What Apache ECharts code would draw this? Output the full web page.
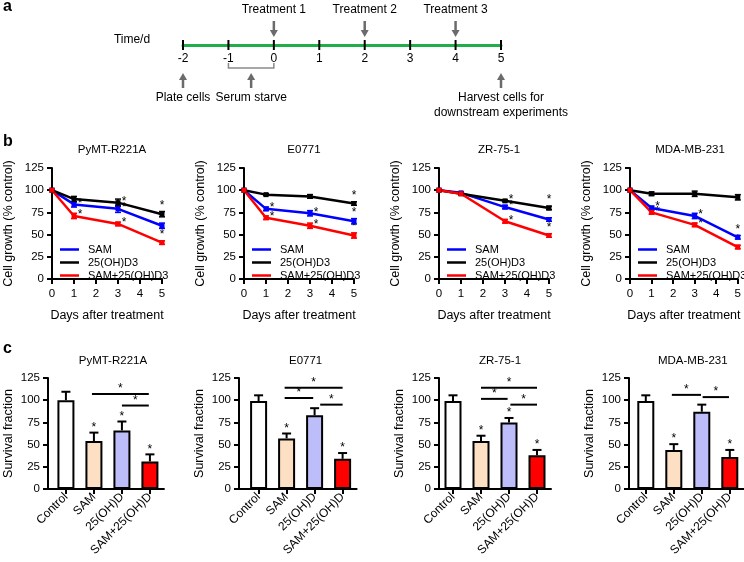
<!DOCTYPE html>
<html lang="en">
<head>
<meta charset="UTF-8">
<title>SAM and 25(OH)D</title>
<style>
  html, body { margin: 0; background: #fff; }
  #chart { width: 744px; height: 562px; }
</style>
</head>
<body>
<div id="chart"></div>
<script src="https://cdn.jsdelivr.net/npm/echarts@6/dist/echarts.min.js"></script>
<script>
// ---- panel a: timeline (days) ----
var timeTicks = [-2, -1, 0, 1, 2, 3, 4, 5];
var treatDays = [0, 2, 4];
var treatLabels = ['Treatment 1', 'Treatment 2', 'Treatment 3'];
var eventDays = [-2, -0.5, 5];
var eventLabels = ['Plate cells', 'Serum starve', 'Harvest cells for\ndownstream experiments'];
var starveRange = [-1, 0];

// ---- panel b: cell growth (% control), one row per cell line ----
var cellLines = ['PyMT-R221A', 'E0771', 'ZR-75-1', 'MDA-MB-231'];
var days = [0, 1, 3, 5];
var treatNames = ['SAM', '25(OH)D3', 'SAM+25(OH)D3'];
var growthSAM   = [[100, 84, 79, 60], [100, 79, 74, 65], [100, 97, 81, 67], [100, 80, 71, 47]];
var growthD3    = [[100, 90, 86, 73], [100, 95, 93, 85], [100, 96, 88, 80], [100, 96, 96, 92]];
var growthCombo = [[100, 71, 62, 41], [100, 69, 60, 49], [100, 96, 65, 49], [100, 75, 61, 36]];
var errSAM   = [[0, 3, 4, 3], [0, 2, 3, 3], [0, 1, 2, 2], [0, 2, 3, 2]];
var errD3    = [[0, 3, 4, 3], [0, 1, 2, 2], [0, 1, 1, 2], [0, 2, 3, 3]];
var errCombo = [[0, 3, 2, 2], [0, 2, 3, 3], [0, 1, 2, 2], [0, 2, 2, 2]];
// 1 = significance star next to the point
var starSAM   = [[0, 1, 1, 1], [0, 1, 1, 1], [0, 0, 1, 1], [0, 1, 1, 1]];
var starD3    = [[0, 0, 1, 1], [0, 0, 0, 1], [0, 0, 1, 1], [0, 0, 0, 0]];
var starCombo = [[0, 1, 1, 1], [0, 1, 1, 1], [0, 0, 1, 1], [0, 1, 1, 1]];

// ---- panel c: survival fraction ----
var groups = ['Control', 'SAM', '25(OH)D', 'SAM+25(OH)D'];
var survival    = [[100, 54, 66, 31], [99, 57, 83, 34], [99, 54, 75, 38], [99, 44, 87, 36]];
var survivalErr = [[9.5, 9.5, 10, 8], [6.5, 5.5, 8, 6.5], [6.5, 6, 5, 6], [6.5, 6.5, 8, 8]];
var survivalStar = [[0, 1, 1, 1], [0, 1, 0, 1], [0, 1, 1, 1], [0, 1, 0, 1]];
// [from group, to group, height]
var sigBars = [
    [[0.93, 2.96, 107], [2, 2.96, 94]],
    [[0.93, 3, 114], [0.93, 1.95, 102.5], [2.2, 3, 95]],
    [[1, 3, 114], [1, 1.95, 101.5], [2.05, 3, 95]],
    [[0.93, 1.97, 106], [2.03, 2.97, 103.5]]
];

var font = 'Liberation Sans';
var lineColors = ['#0000ff', '#000000', '#ff0000'];
var barColors = ['#ffffff', '#fde0c4', '#bdbdfa', '#ff0000'];
var arrowColor = '#6b6b6b';

var myChart = echarts.init(document.getElementById('chart'));

function seg(x1, y1, x2, y2, color, w) {
    return {type: 'line', shape: {x1: x1, y1: y1, x2: x2, y2: y2}, style: {stroke: color, lineWidth: w}};
}
function starText(x, y) {
    return {type: 'text', x: x, y: y, style: {text: '*', fill: '#000', font: '12px ' + font, align: 'center', verticalAlign: 'middle'}};
}
function arrow(x, yTail, yTip) {
    var dir = yTip > yTail ? 1 : -1;
    var shaftEnd = yTip - dir * 7;
    return [
        seg(x, yTail, x, shaftEnd, arrowColor, 2.5),
        {type: 'polygon', shape: {points: [[x - 4, shaftEnd], [x + 4, shaftEnd], [x, yTip]]}, style: {fill: arrowColor}}
    ];
}

var axisLine = {lineStyle: {color: '#000', width: 2}};
var axisTick = {length: 5, lineStyle: {color: '#000', width: 2}};
var tickLabel = {color: '#000', fontSize: 11.5, fontFamily: font};
var nameStyle = {color: '#000', fontSize: 12.5, fontFamily: font};

var grids = [], xAxes = [], yAxes = [], series = [], titles = [], legends = [];

// panel a
grids.push({left: 183, top: 0, width: 318, height: 45});
xAxes.push({gridIndex: 0, type: 'value', min: -2, max: 5, interval: 1,
    axisLine: {lineStyle: {color: '#1fae4a', width: 3}}, axisTick: {show: false}, splitLine: {show: false},
    axisLabel: {color: '#000', fontSize: 12, fontFamily: font, margin: 8}});
yAxes.push({gridIndex: 0, type: 'value', min: 0, max: 1, show: false});
series.push({type: 'custom', xAxisIndex: 0, yAxisIndex: 0, silent: true,
    data: timeTicks.map(function (d) { return [d, 0]; }),
    renderItem: function (params, api) {
        var p = api.coord([api.value(0), 0]);
        return seg(p[0], p[1] - 5, p[0], p[1] + 5, '#000', 2);
    }});
series.push({type: 'custom', xAxisIndex: 0, yAxisIndex: 0, silent: true,
    data: treatDays.map(function (d, i) { return [d, 0, i]; }),
    renderItem: function (params, api) {
        var p = api.coord([api.value(0), 0]);
        var kids = arrow(p[0], p[1] - 24, p[1] - 8);
        kids.push({type: 'text', x: p[0], y: p[1] - 35, style: {text: treatLabels[api.value(2)], fill: '#000',
            font: '12px ' + font, align: 'center', verticalAlign: 'middle'}});
        return {type: 'group', children: kids};
    }});
series.push({type: 'custom', xAxisIndex: 0, yAxisIndex: 0, silent: true,
    data: eventDays.map(function (d, i) { return [d, 0, i]; }),
    renderItem: function (params, api) {
        var p = api.coord([api.value(0), 0]);
        var kids = arrow(p[0], p[1] + 43, p[1] + 28);
        kids.push({type: 'text', x: p[0], y: p[1] + 45, style: {text: eventLabels[api.value(2)], fill: '#000',
            font: '12px ' + font, align: 'center', verticalAlign: 'top', lineHeight: 15}});
        return {type: 'group', children: kids};
    }});
series.push({type: 'custom', xAxisIndex: 0, yAxisIndex: 0, silent: true,
    data: [[starveRange[0], starveRange[1]]],
    renderItem: function (params, api) {
        var a = api.coord([api.value(0), 0]), b = api.coord([api.value(1), 0]);
        return {type: 'polyline', shape: {points: [[a[0], a[1] + 18], [a[0], a[1] + 23], [b[0], b[1] + 23], [b[0], b[1] + 18]]},
            style: {stroke: '#8a8a8a', lineWidth: 1.5, fill: null}};
    }});

// panel b
var bLeft = [52, 244, 439, 630];
var growth = [growthSAM, growthD3, growthCombo];
var growthErr = [errSAM, errD3, errCombo];
var growthStar = [starSAM, starD3, starCombo];

function renderLineErr(params, api) {
    var x = api.value(0), v = api.value(1), e = api.value(2), star = api.value(3);
    var color = api.visual('color');
    var p = api.coord([x, v]);
    var hi = api.coord([x, v + e]), lo = api.coord([x, v - e]);
    var kids = [];
    if (e > 0) {
        kids.push(seg(p[0], hi[1], p[0], lo[1], color, 1.5));
        kids.push(seg(p[0] - 3, hi[1], p[0] + 3, hi[1], color, 1.5));
        kids.push(seg(p[0] - 3, lo[1], p[0] + 3, lo[1], color, 1.5));
    }
    if (star) {
        var last = x === days[days.length - 1];
        kids.push(last ? starText(p[0], hi[1] - 6) : starText(p[0] + 6, p[1] - 1));
    }
    return {type: 'group', children: kids};
}

for (var k = 0; k < 4; k++) {
    var gi = 1 + k;
    grids.push({left: bLeft[k], top: 168, width: 110, height: 111});
    xAxes.push({gridIndex: gi, type: 'value', min: 0, max: 5, interval: 1,
        name: 'Days after treatment', nameLocation: 'middle', nameGap: 30, nameTextStyle: nameStyle,
        axisLine: axisLine, axisTick: axisTick, splitLine: {show: false},
        axisLabel: Object.assign({margin: 9}, tickLabel)});
    yAxes.push({gridIndex: gi, type: 'value', min: 0, max: 125, interval: 25,
        name: 'Cell growth (% control)', nameLocation: 'middle', nameGap: 37, nameTextStyle: nameStyle,
        axisLine: axisLine, axisTick: axisTick, splitLine: {show: false},
        axisLabel: Object.assign({margin: 8}, tickLabel)});
    titles.push({text: cellLines[k], left: bLeft[k] + 55, top: 139, textAlign: 'center',
        textStyle: {fontSize: 11.5, fontWeight: 'normal', fontFamily: font, color: '#000'}});
    legends.push({data: treatNames, left: bLeft[k] + 3, top: 238, orient: 'vertical', icon: 'rect',
        itemWidth: 19, itemHeight: 2.5, itemGap: 0, selectedMode: false,
        textStyle: {fontSize: 11, fontFamily: font, color: '#000', lineHeight: 13, padding: [0, 0, 0, 4]}});
    for (var s = 0; s < 3; s++) {
        var vals = growth[s][k], errs = growthErr[s][k], stars = growthStar[s][k];
        series.push({type: 'line', name: treatNames[s], xAxisIndex: gi, yAxisIndex: gi,
            color: lineColors[s], lineStyle: {width: 2.5}, symbol: 'rect', symbolSize: 5,
            data: days.map(function (d, i) { return [d, vals[i]]; })});
        series.push({type: 'custom', name: treatNames[s] + ' err', xAxisIndex: gi, yAxisIndex: gi,
            itemStyle: {color: lineColors[s]}, renderItem: renderLineErr,
            data: days.map(function (d, i) { return [d, vals[i], errs[i], stars[i]]; })});
    }
}

// panel c
var cLeft = [48, 239, 439, 629];
var cMin = [-0.64, -0.7, -0.5, -0.6];
var band = 28;

function renderBarErr(params, api) {
    var x = api.value(0), v = api.value(1), e = api.value(2), star = api.value(3);
    var p = api.coord([x, v]), hi = api.coord([x, v + e]);
    var kids = [seg(p[0], p[1], p[0], hi[1], '#000', 2), seg(p[0] - 4.5, hi[1], p[0] + 4.5, hi[1], '#000', 2)];
    if (star) kids.push(starText(p[0], hi[1] - 5));
    return {type: 'group', children: kids};
}
function renderSig(params, api) {
    var a = api.coord([api.value(0), api.value(2)]), b = api.coord([api.value(1), api.value(2)]);
    return {type: 'group', children: [seg(a[0], a[1], b[0], b[1], '#000', 2), starText((a[0] + b[0]) / 2, a[1] - 5)]};
}

for (var k = 0; k < 4; k++) {
    var gi = 5 + k;
    grids.push({left: cLeft[k], top: 378, width: (3.5 - cMin[k]) * band, height: 111});
    xAxes.push({gridIndex: gi, type: 'value', min: cMin[k], max: 3.5,
        axisLine: axisLine, splitLine: {show: false},
        axisTick: Object.assign({customValues: [0, 1, 2, 3]}, axisTick),
        axisLabel: {customValues: [0, 1, 2, 3], rotate: 45, margin: 6, color: '#000', fontSize: 12, fontFamily: font,
            formatter: function (v) { return groups[Math.round(v)]; }}});
    yAxes.push({gridIndex: gi, type: 'value', min: 0, max: 125, interval: 25,
        name: 'Survival fraction', nameLocation: 'middle', nameGap: 33, nameTextStyle: nameStyle,
        axisLine: {onZero: false, lineStyle: {color: '#000', width: 2}}, axisTick: axisTick, splitLine: {show: false},
        axisLabel: Object.assign({margin: 8}, tickLabel)});
    titles.push({text: cellLines[k], left: cLeft[k] + (-cMin[k] + 1.5) * band, top: 350, textAlign: 'center',
        textStyle: {fontSize: 11.5, fontWeight: 'normal', fontFamily: font, color: '#000'}});
    var sv = survival[k], se = survivalErr[k], ss = survivalStar[k];
    series.push({type: 'bar', xAxisIndex: gi, yAxisIndex: gi, barWidth: 17,
        itemStyle: {borderColor: '#000', borderWidth: 2},
        data: groups.map(function (g, i) { return {value: [i, sv[i]], itemStyle: {color: barColors[i]}}; })});
    series.push({type: 'custom', xAxisIndex: gi, yAxisIndex: gi, renderItem: renderBarErr, z: 3,
        data: groups.map(function (g, i) { return [i, sv[i], se[i], ss[i]]; })});
    series.push({type: 'custom', xAxisIndex: gi, yAxisIndex: gi, renderItem: renderSig, z: 3,
        data: sigBars[k]});
}

var option = {
    animation: false,
    textStyle: {fontFamily: font, color: '#000'},
    title: titles,
    legend: legends,
    grid: grids,
    xAxis: xAxes,
    yAxis: yAxes,
    series: series,
    graphic: [
        {type: 'text', x: 3, y: 7, style: {text: 'a', font: 'bold 16px ' + font, fill: '#000', verticalAlign: 'middle'}},
        {type: 'text', x: 3, y: 142, style: {text: 'b', font: 'bold 16px ' + font, fill: '#000', verticalAlign: 'middle'}},
        {type: 'text', x: 3, y: 349, style: {text: 'c', font: 'bold 16px ' + font, fill: '#000', verticalAlign: 'middle'}},
        {type: 'text', x: 132, y: 40, style: {text: 'Time/d', font: '12px ' + font, fill: '#000', align: 'center', verticalAlign: 'middle'}}
    ]
};
myChart.setOption(option);
</script>
</body>
</html>
